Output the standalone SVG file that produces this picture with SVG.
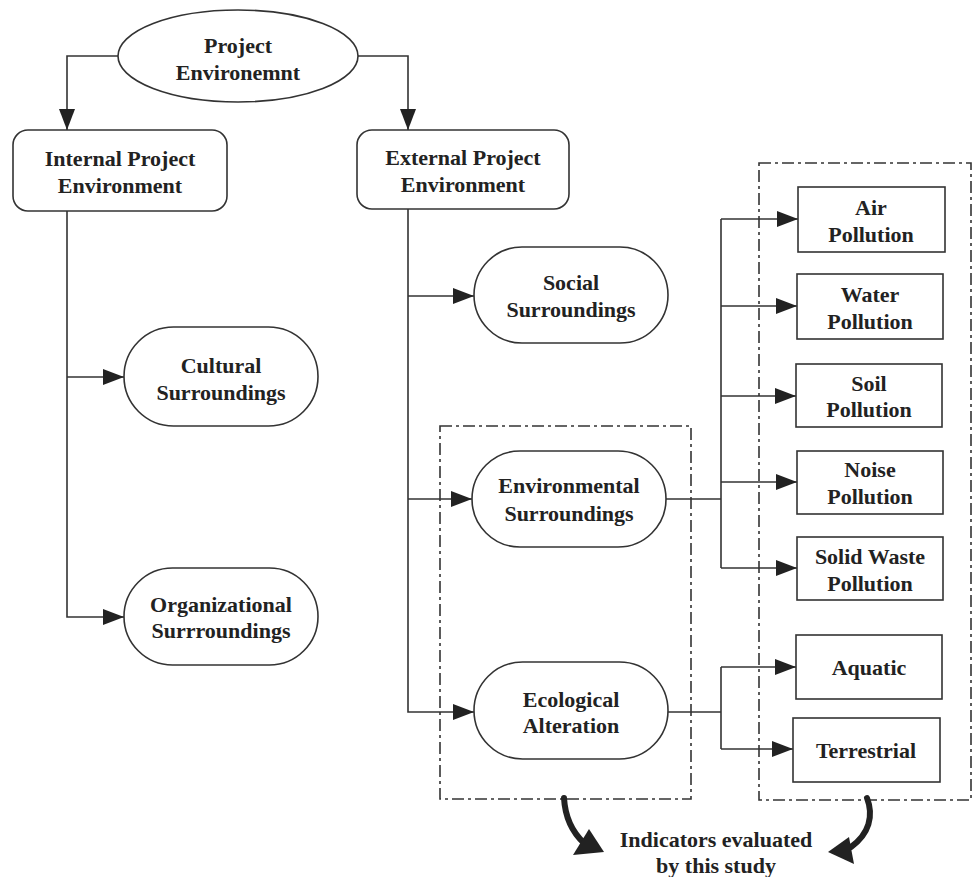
<svg xmlns="http://www.w3.org/2000/svg" width="973" height="877" viewBox="0 0 973 877">
<style>
  .n{fill:#fff;stroke:#333;stroke-width:1.6}
  .t{font-family:"Liberation Serif","Times New Roman",serif;font-weight:bold;font-size:22px;fill:#222;text-anchor:middle}
  .c{fill:none;stroke:#333;stroke-width:1.6}
  .d{fill:none;stroke:#333;stroke-width:1.6;stroke-dasharray:12 4 3 4}
  .k{fill:none;stroke:#222;stroke-width:6;stroke-linecap:round}
</style>
<defs>
  <marker id="ah" markerUnits="userSpaceOnUse" markerWidth="21" markerHeight="16" refX="21" refY="8" orient="auto">
    <path d="M0,0 L21,8 L0,16 z" fill="#222"/>
  </marker>
</defs>
<rect width="973" height="877" fill="#fff"/>

<g id="groups">
  <rect class="d" x="440" y="426" width="251" height="373"/>
  <rect class="d" x="759" y="163" width="212" height="637"/>
</g>

<g id="connectors">
  <path class="c" d="M118,56 H67 V130" marker-end="url(#ah)"/>
  <path class="c" d="M358,56 H408 V130" marker-end="url(#ah)"/>
  <path class="c" d="M67,211 V617 H124" marker-end="url(#ah)"/>
  <path class="c" d="M67,377 H124" marker-end="url(#ah)"/>
  <path class="c" d="M408,209 V712 H474" marker-end="url(#ah)"/>
  <path class="c" d="M408,296 H474" marker-end="url(#ah)"/>
  <path class="c" d="M408,499 H472" marker-end="url(#ah)"/>
  <path class="c" d="M666,499 H721"/>
  <path class="c" d="M721,219 V568"/>
  <path class="c" d="M721,219 H798" marker-end="url(#ah)"/>
  <path class="c" d="M721,306 H797" marker-end="url(#ah)"/>
  <path class="c" d="M721,396 H796" marker-end="url(#ah)"/>
  <path class="c" d="M721,482 H797" marker-end="url(#ah)"/>
  <path class="c" d="M721,568 H797" marker-end="url(#ah)"/>
  <path class="c" d="M668,712 H721"/>
  <path class="c" d="M721,667 V749"/>
  <path class="c" d="M721,667 H796" marker-end="url(#ah)"/>
  <path class="c" d="M721,749 H793" marker-end="url(#ah)"/>
  <path class="k" d="M564,798 C565,815 570,830 584,843"/>
  <polygon points="604,852 589,829 573,855" fill="#222"/>
  <path class="k" d="M867,798 C874,816 869,834 851,847"/>
  <polygon points="828,852 849,837 854,864" fill="#222"/>
</g>

<g id="project-environment">
  <ellipse class="n" cx="238" cy="56" rx="120" ry="46"/>
  <text class="t" x="238" y="53">Project</text>
  <text class="t" x="238" y="80">Environemnt</text>
</g>
<g id="internal">
  <rect class="n" x="13" y="130" width="214" height="81" rx="15"/>
  <text class="t" x="120" y="166">Internal Project</text>
  <text class="t" x="120" y="193">Environment</text>
</g>
<g id="external">
  <rect class="n" x="357" y="130" width="212" height="79" rx="15"/>
  <text class="t" x="463" y="165">External Project</text>
  <text class="t" x="463" y="192">Environment</text>
</g>
<g id="cultural">
  <rect class="n" x="124" y="327" width="194" height="99" rx="49.5"/>
  <text class="t" x="221" y="373">Cultural</text>
  <text class="t" x="221" y="400">Surroundings</text>
</g>
<g id="organizational">
  <rect class="n" x="124" y="568" width="194" height="97" rx="48.5"/>
  <text class="t" x="221" y="612">Organizational</text>
  <text class="t" x="221" y="638">Surrroundings</text>
</g>
<g id="social">
  <rect class="n" x="474" y="247" width="194" height="96" rx="48"/>
  <text class="t" x="571" y="290">Social</text>
  <text class="t" x="571" y="317">Surroundings</text>
</g>
<g id="environmental">
  <rect class="n" x="472" y="451" width="194" height="96" rx="48"/>
  <text class="t" x="569" y="493">Environmental</text>
  <text class="t" x="569" y="521">Surroundings</text>
</g>
<g id="ecological">
  <rect class="n" x="474" y="662" width="194" height="97" rx="48.5"/>
  <text class="t" x="571" y="707">Ecological</text>
  <text class="t" x="571" y="733">Alteration</text>
</g>
<g id="air">
  <rect class="n" x="798" y="187" width="147" height="65"/>
  <text class="t" x="871" y="215">Air</text>
  <text class="t" x="871" y="242">Pollution</text>
</g>
<g id="water">
  <rect class="n" x="797" y="274" width="146" height="65"/>
  <text class="t" x="870" y="302">Water</text>
  <text class="t" x="870" y="329">Pollution</text>
</g>
<g id="soil">
  <rect class="n" x="796" y="364" width="146" height="63"/>
  <text class="t" x="869" y="391">Soil</text>
  <text class="t" x="869" y="417">Pollution</text>
</g>
<g id="noise">
  <rect class="n" x="797" y="451" width="146" height="63"/>
  <text class="t" x="870" y="477">Noise</text>
  <text class="t" x="870" y="504">Pollution</text>
</g>
<g id="solid-waste">
  <rect class="n" x="797" y="537" width="146" height="63"/>
  <text class="t" x="870" y="564">Solid Waste</text>
  <text class="t" x="870" y="591">Pollution</text>
</g>
<g id="aquatic">
  <rect class="n" x="796" y="635" width="146" height="64"/>
  <text class="t" x="869" y="675">Aquatic</text>
</g>
<g id="terrestrial">
  <rect class="n" x="793" y="718" width="147" height="64"/>
  <text class="t" x="866" y="758">Terrestrial</text>
</g>
<g id="indicators">
  <text class="t" x="716" y="847">Indicators evaluated</text>
  <text class="t" x="716" y="873">by this study</text>
</g>
</svg>
